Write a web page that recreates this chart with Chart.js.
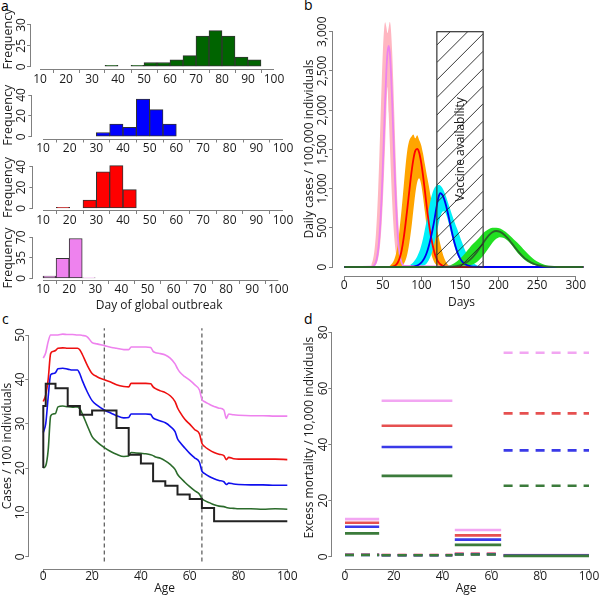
<!DOCTYPE html>
<html><head><meta charset="utf-8">
<script src="https://cdn.jsdelivr.net/npm/chart.js@4.4.1/dist/chart.umd.min.js"></script>
<style>
html,body{margin:0;padding:0;background:#fff;}
#wrap{position:relative;width:600px;height:599px;overflow:hidden;background:#fff;}
#wrap canvas{position:absolute;left:0;top:0;}
.lbl{position:absolute;font-family:'Open Sans',sans-serif;font-size:14px;line-height:14px;color:#000;}
</style></head><body>
<div id="wrap">
  <div class="lbl" style="left:1px;top:-1px">a</div>
  <div class="lbl" style="left:304px;top:-2px">b</div>
  <div class="lbl" style="left:2px;top:312px">c</div>
  <div class="lbl" style="left:304px;top:312px">d</div>
</div>
<script>
// ---------------- DATA ----------------
// Panel a : histograms of day of global outbreak
const histXTicks = [10,20,30,40,50,60,70,80,90,100];
const histXLabels = ['10','20','30','40','50','60','70','80','90','100'];
const hist1Edges = [35,40,45,50,55,60,65,70,75,80,85,90,95];
const hist1Counts = [1,0,1,3,3,5,8,22,26,22,7,5];
const hist1YTicks = [0,15,30];
const hist1YLabels = ['0','25','30'];
const hist2Edges = [30,35,40,45,50,55,60];
const hist2Counts = [4,12,9,36,26,12];
const hist2YTicks = [0,20,40];
const hist2YLabels = ['0','20','40'];
const hist3Edges = [15,20,25,30,35,40,45];
const hist3Counts = [1,0,8,35,41,18];
const hist3YTicks = [0,20,40];
const hist3YLabels = ['0','20','40'];
const hist4Edges = [10,15,20,25,30];
const hist4Counts = [4,34,68,1];
const hist4YTicks = [0,35,70];
const hist4YLabels = ['0','35','70'];

// Panel b : daily cases per 100,000
const dayRange = [0, 310];
const bXTicks = [0,50,100,150,200,250,300];
const bXLabels = ['0','50','100','150','200','250','300'];
const bYTicks = [0,500,1000,1500,2000,2500,3000];
const bYLabels = ['0','500','1,000','1,500','2,000','2,500','3,000'];
const vaccineWindow = [120, 180];
const vaccineTop = 3000;

const pinkDays = [35,36.5,38,39.5,41,42.5,44,45.5,47,48.5,50,51.5,53,54.5,56,57.5,59,60.5,62,63.5,65,66.5,68,69.5,71,72.5,74,75.5,77];
const pinkUpper = [35,71,137,248,422,675,1013,1428,1892,2355,2753,3023,3120,3060,2980,3050,3130,3023,2753,2355,1892,1428,1013,675,422,248,137,71,35];
const pinkLower = [0,2,6,13,29,59,114,207,352,562,844,1190,1577,1962,2295,1962,1577,1190,844,562,352,207,114,59,29,13,6,2,0];
const violetLine = [3,6,14,31,64,124,224,382,610,916,1291,1710,2129,2489,2733,2820,2733,2489,2129,1710,1291,916,610,382,224,124,64,31,14];

const orangeDays = [57,59.5,62,64.5,67,69.5,72,74.5,77,79.5,82,84.5,87,89.5,92,94.5,97,99.5,102,104.5,107,109.5,112,114.5,117,119.5,122,124.5,127,129.5,132,134.5,137];
const orangeUpper = [0,20,45,90,170,300,520,760,1030,1300,1510,1620,1660,1690,1640,1680,1620,1560,1450,1310,1170,1040,900,790,660,530,400,290,190,115,60,25,5];
const orangeLower = [0,0,0,0,0,0,5,15,40,90,180,320,500,720,930,1080,1130,1060,900,700,500,330,200,110,55,25,10,3,0,0,0,0,0];
const redLine = [0,2,5,12,28,60,120,220,370,560,770,990,1200,1370,1480,1505,1460,1340,1170,970,760,570,410,280,180,110,65,35,18,8,3,1,0];

const cyanDays = [79.5,82,84.5,87,89.5,92,94.5,97,99.5,102,104.5,107,109.5,112,114.5,117,119.5,122,124.5,127,129.5,132,134.5,137,139.5,142,144.5,147,149.5,152,154.5,157,159.5,162,164.5,167,169.5,172,174.5,177,179.5,182,184.5];
const cyanUpper = [5,12,22,38,60,92,135,190,265,360,480,610,740,860,950,1010,1040,1045,1040,1010,960,895,820,745,670,600,530,470,400,330,265,205,155,112,80,54,35,22,13,7,3,1,0];
const cyanLower = [0,0,0,0,0,0,0,0,5,12,25,48,85,140,215,310,420,540,640,700,710,670,590,490,385,290,210,145,95,60,35,20,10,5,2,0,0,0,0,0,0,0,0];
const blueLine = [0,0,0,3,6,11,19,32,52,82,125,185,265,365,480,610,760,885,940,920,866,781,676,560,447,342,251,177,119,80,52,34,22,14,9,6,4,2,1,0,0,0,0];

const greenDays = [127,132,137,142,147,152,157,162,167,172,177,182,187,192,197,202,207,212,217,222,227,232,237,242,247,252,257,262,267,272,277];
const greenUpper = [2,8,20,45,80,125,180,240,295,345,400,448,482,500,501,490,462,425,378,330,283,230,178,130,90,60,38,22,12,6,0];
const greenLower = [0,0,0,0,0,3,8,18,36,65,110,170,240,310,360,380,370,335,280,215,155,105,68,42,25,14,7,3,1,0,0];
const darkGreenLine = [0,1,3,7,14,28,50,84,132,193,264,336,400,443,459,447,414,364,304,241,181,129,88,57,35,20,11,6,3,1,0];

// Panel c : cases per 100 by age
const cXTicks = [0,20,40,60,80,100];
const cXLabels = ['0','20','40','60','80','100'];
const cYTicks = [0,10,20,30,40,50];
const cYLabels = ['0','10','20','30','40','50'];
const ages = [0,1,2,3,4,5,6,8,10,12,14,15,16,18,20,22,25,28,30,33,35,36,38,40,42,44,45,46,48,50,52,54,55,56,58,60,62,64,65,66,68,70,72,74,75,76,78,80,85,90,95,100];
const casesViolet = [44.8,46,48.5,50,50,50,50,50.2,50.1,50.1,50,50,49.9,49.6,48.3,48,47.6,47.2,47,46.7,46.7,47.3,47.3,47.3,47.3,47.2,46.3,46,45.8,45.5,44.8,43.5,42.4,41.6,40.6,39.8,38.8,37.6,35.5,35,34.4,33.9,33.5,33.1,31.2,32.2,32,31.9,31.8,31.8,31.7,31.7];
const casesRed = [35,36.5,40,45.8,46.3,46.5,47,47.1,47,47,47,46.6,45.6,43.2,41.3,40.6,39.9,39.3,38.8,38.4,38.3,39.1,39.1,39.1,39.1,39,38.3,37.9,37.4,37,36.3,35,33.6,32.6,31,29.9,28.7,27.7,25.6,24.9,24.1,23.5,23.1,22.8,21.9,22.4,22.1,22,22,22,22,21.9];
const casesBlue = [28,30,36,41,41.3,41.5,42.4,42.5,42.3,42.1,42.1,41.2,39.7,37.2,35.2,34.2,33.1,32.3,31.8,31.3,31.4,32.2,32.2,32.2,32.2,32.1,31.3,31,30.6,30.2,29.4,28.2,26.6,25.8,24.5,23.3,22.3,21.3,19.3,18.8,18.1,17.6,17.2,16.9,16.3,16.6,16.4,16.3,16.2,16.2,16.1,16.1];
const casesGreen = [20,20.5,24,31.7,32.2,32.3,33.8,34,33.8,33.7,33.8,33.3,32.2,29.6,27.1,25.9,24.6,23.6,23.1,22.6,22.7,23.5,23.4,23.3,23.2,23,22.8,22.5,22.2,21.6,20.8,19.7,18.6,17.9,16.8,15.8,14.9,14.1,13.1,12.7,12.2,11.7,11.4,11.3,11.1,11,10.9,10.8,10.8,10.7,10.8,10.7];
const stepAges = [0,1,5,10,15,20,25,30,35,40,45,50,55,60,65,70,75,100];
const stepCases = [20,34,39,38,34,32,33,33,29,23,21,17,16,14,13,11,8,8];
const refAges = [25, 65];
const refSpan = [-1.1, 51.5];

// Panel d : excess mortality per 10,000 by age group
const dXTicks = [0,20,40,60,80,100];
const dXLabels = ['0','20','40','60','80','100'];
const dYTicks = [0,20,40,60,80];
const dYLabels = ['0','20','40','60','80'];
const groupStart = [0,15,45,65];
const groupEnd = [14,44,64,100];
const mortSolidViolet = [13.4,55.6,9.5,0.6];
const mortSolidRed = [12.1,46.7,7.6,0.5];
const mortSolidBlue = [10.7,39.1,6.1,0.4];
const mortSolidGreen = [8.3,28.8,4.2,0.3];
const mortDashViolet = [0.7,0.6,1.1,72.7];
const mortDashRed = [0.7,0.6,1.0,51.1];
const mortDashBlue = [0.6,0.5,0.9,37.9];
const mortDashGreen = [0.6,0.5,0.8,25.3];

// ---------------- STYLE / HELPERS ----------------
const FONT = "'Open Sans', sans-serif";
const AXIS = '#808080';
const INK = '#1a1a1a';
Chart.defaults.font.family = FONT;
Chart.defaults.color = INK;
const wrap = document.getElementById('wrap');
const mctx = document.createElement('canvas').getContext('2d');
function textW(s, size){ mctx.font = size + 'px ' + FONT; return mctx.measureText(s).width; }
function span(v1,p1,v2,p2,e1,e2){ const k=(v2-v1)/(p2-p1); return [v1+(e1-p1)*k, v1+(e2-p1)*k]; }
function pts(xs, ys){ return xs.map((x,i)=>({x:x, y:ys[i]})); }
function binPoints(edges, counts){ return counts.map((c,i)=>({x:(edges[i]+edges[i+1])/2, y:c})); }
function withBase(days, vals){ return [{x:dayRange[0],y:0}].concat(pts(days, vals), [{x:dayRange[1],y:0}]); }
function segs(vals){ const out=[]; vals.forEach((v,i)=>{ out.push({x:groupStart[i],y:v},{x:groupEnd[i],y:v},{x:groupEnd[i],y:null}); }); return out; }

const rAxes = {
  id:'rAxes',
  afterDraw(chart){
    const {ctx, scales:{x,y}} = chart;
    ctx.save(); ctx.strokeStyle = AXIS; ctx.lineWidth = 1;
    const xs = x.ticks, ys = y.ticks;
    const by = Math.round(x.top) + 0.5;
    const lx = Math.round(y.right) - 0.5;
    ctx.beginPath();
    ctx.moveTo(x.getPixelForValue(xs[0].value), by);
    ctx.lineTo(x.getPixelForValue(xs[xs.length-1].value), by);
    ctx.moveTo(lx, y.getPixelForValue(ys[0].value));
    ctx.lineTo(lx, y.getPixelForValue(ys[ys.length-1].value));
    ctx.stroke(); ctx.restore();
  }
};

function makePanel(p){
  const c = document.createElement('canvas'); c.width = 600; c.height = 599;
  c.style.width = '600px'; c.style.height = '599px';
  wrap.appendChild(c);
  const tickLen = 4;
  const kSize = p.tickSize || 12, tSize = p.titleSize || 12, ytSize = p.yTitleSize || tSize;
  const kLH = kSize * 1.2, tLH = tSize * 1.2, ytLH = ytSize * 1.2;
  const padLeft = p.yTitleX - ytLH / 2;
  const yW = p.L - padLeft;
  const xH = p.xTitle ? (p.xTitleY - p.B + tLH / 2) : 24;
  const xr = span(p.xCal[0], p.xCal[1], p.xCal[2], p.xCal[3], p.L, p.R);
  const yr = span(p.yCal[0], p.yCal[1], p.yCal[2], p.yCal[3], p.B, p.T);
  const widest = Math.max.apply(null, p.yLabels.map(s => textW(s, kSize)));
  const yPad = p.L - tickLen - p.yTickX - widest / 2;
  const xPad = p.xTickY - p.B - tickLen - kLH / 2;
  const grid = {display:true, drawOnChartArea:false, drawTicks:true, tickLength:tickLen, color:AXIS, lineWidth:1};
  return new Chart(c, {
    type: p.type || 'line',
    data: {datasets: p.datasets},
    options: {
      responsive:false, animation:false, events:[],
      layout:{padding:{left:padLeft, top:p.T, right:600 - p.R, bottom:599 - p.B - xH}},
      plugins:{legend:{display:false}, tooltip:{enabled:false}},
      elements:{point:{radius:0}},
      scales:{
        x:{type:'linear', min:xr[0], max:xr[1], bounds:'data', offset:false,
          afterBuildTicks: s => { s.ticks = p.xTicks.map(v => ({value:v})); },
          afterFit: s => { s.height = xH; },
          ticks:{callback:(v,i) => p.xLabels[i], font:{size:kSize}, color:INK, padding:xPad, minRotation:0, maxRotation:0, autoSkip:false},
          grid: grid, border:{display:false},
          title: p.xTitle ? {display:true, text:p.xTitle, font:{size:tSize}, color:INK, padding:0} : {display:false}
        },
        y:{type:'linear', min:yr[0], max:yr[1], bounds:'data',
          afterBuildTicks: s => { s.ticks = p.yTicks.map(v => ({value:v})); },
          afterFit: s => { s.width = yW; },
          ticks:{callback:(v,i) => p.yLabels[i], font:{size:kSize}, color:INK, padding:yPad, minRotation:90, maxRotation:90, crossAlign:'center', autoSkip:false},
          grid: grid, border:{display:false},
          title:{display:true, text:p.yTitle, font:{size:ytSize}, color:INK, padding:0}
        }
      }
    },
    plugins:[rAxes].concat(p.plugins || [])
  });
}

function histDataset(edges, counts, color){
  return [{type:'bar', data:binPoints(edges, counts), backgroundColor:color, borderColor:'#333333', borderWidth:1,
           borderSkipped:false, barPercentage:1, categoryPercentage:1}];
}

// ---------------- PANEL a ----------------
makePanel({type:'bar', L:31, R:282, T:9, B:69, xCal:[10,40,100,274], yCal:[0,66.7,30,25],
  xTicks:histXTicks, xLabels:histXLabels, yTicks:hist1YTicks, yLabels:hist1YLabels,
  yTitle:'Frequency', yTitleX:8, yTitleSize:12.5, yTickX:22, xTickY:79.5,
  datasets:histDataset(hist1Edges, hist1Counts, '#006400')});
makePanel({type:'bar', L:32.3, R:290, T:92, B:138.5, xCal:[10,43,100,283], yCal:[0,136.7,40,95],
  xTicks:histXTicks, xLabels:histXLabels, yTicks:hist2YTicks, yLabels:hist2YLabels,
  yTitle:'Frequency', yTitleX:8, yTitleSize:12.5, yTickX:22, xTickY:149,
  datasets:histDataset(hist2Edges, hist2Counts, '#0000FF')});
makePanel({type:'bar', L:33.3, R:290, T:165, B:210, xCal:[10,43,100,283], yCal:[0,208.3,40,166.7],
  xTicks:histXTicks, xLabels:histXLabels, yTicks:hist3YTicks, yLabels:hist3YLabels,
  yTitle:'Frequency', yTitleX:8, yTitleSize:12.5, yTickX:22, xTickY:220.3,
  datasets:histDataset(hist3Edges, hist3Counts, '#FF0000')});
makePanel({type:'bar', L:33.3, R:285, T:236, B:280, xCal:[10,43,100,278.3], yCal:[0,278.3,70,237.3],
  xTicks:histXTicks, xLabels:histXLabels, yTicks:hist4YTicks, yLabels:hist4YLabels,
  yTitle:'Frequency', yTitleX:8, yTitleSize:12.5, yTickX:22, xTickY:290,
  xTitle:'Day of global outbreak', xTitleY:306,
  datasets:histDataset(hist4Edges, hist4Counts, '#EE82EE')});

// ---------------- PANEL b ----------------
const vaccineBox = {
  id:'vaccineBox',
  afterDatasetsDraw(chart){
    const {ctx, scales:{x,y}} = chart;
    const x0 = x.getPixelForValue(vaccineWindow[0]), x1 = x.getPixelForValue(vaccineWindow[1]);
    const yb = y.getPixelForValue(0), yt = y.getPixelForValue(vaccineTop);
    const w = x1 - x0;
    ctx.save();
    ctx.beginPath(); ctx.rect(x0, yt, w, yb - yt); ctx.clip();
    ctx.strokeStyle = '#222'; ctx.lineWidth = 0.9;
    ctx.beginPath();
    for (let k = yt + 13.3 - 17.5 * 4; k < yb + w + 17.5; k += 17.5){
      ctx.moveTo(x0, k); ctx.lineTo(x1, k - w);
    }
    ctx.stroke();
    ctx.restore();
    ctx.save();
    ctx.strokeStyle = '#333'; ctx.lineWidth = 1.2;
    ctx.strokeRect(x0, yt, w, yb - yt);
    ctx.translate(x.getPixelForValue((vaccineWindow[0] + vaccineWindow[1]) / 2) + 1, y.getPixelForValue(vaccineTop / 2));
    ctx.rotate(-Math.PI / 2);
    ctx.fillStyle = INK; ctx.font = '12px ' + FONT; ctx.textAlign = 'center'; ctx.textBaseline = 'middle';
    ctx.fillText('Vaccine availability', 0, 0);
    ctx.restore();
  }
};
function band(days, up, lo, color, order){
  return [
    {data:pts(days, up), borderWidth:0, pointRadius:0, fill:'+1', backgroundColor:color, order:order, cubicInterpolationMode:'monotone'},
    {data:pts(days, lo), borderWidth:0, pointRadius:0, fill:false, backgroundColor:color, order:order, cubicInterpolationMode:'monotone'}
  ];
}
function curve(days, vals, color, order){
  return {data:withBase(days, vals), borderColor:color, borderWidth:1.8, pointRadius:0, fill:false, order:order, cubicInterpolationMode:'monotone'};
}
makePanel({L:333, R:590, T:22, B:276, xCal:[0,344.3,300,575.7], yCal:[0,267,3000,31.7],
  xTicks:bXTicks, xLabels:bXLabels, yTicks:bYTicks, yLabels:bYLabels,
  yTitle:'Daily cases / 100,000 individuals', yTitleX:310, yTickX:323, xTickY:286,
  xTitle:'Days', xTitleY:303,
  datasets:[].concat(
    band(pinkDays, pinkUpper, pinkLower, '#FFB6C1', 20),
    band(orangeDays, orangeUpper, orangeLower, '#FFA500', 19),
    band(cyanDays, cyanUpper, cyanLower, '#00F0F8', 18),
    band(greenDays, greenUpper, greenLower, '#22E022', 17),
    [curve(pinkDays, violetLine, '#EE82EE', 16),
     curve(orangeDays, redLine, '#FF0000', 15),
     curve(cyanDays, blueLine, '#0000EE', 14),
     curve(greenDays, darkGreenLine, '#2A642A', 13)]
  ),
  plugins:[vaccineBox]});

// ---------------- PANEL c ----------------
function ageLine(vals, color){ return {data:pts(ages, vals), borderColor:color, borderWidth:1.6, pointRadius:0, fill:false, cubicInterpolationMode:'monotone'}; }
makePanel({L:29.3, R:300, T:322.7, B:569.3, xCal:[0,43.3,100,287.3], yCal:[0,556.7,50,335],
  xTicks:cXTicks, xLabels:cXLabels, yTicks:cYTicks, yLabels:cYLabels,
  yTitle:'Cases / 100 individuals', yTitleX:8, yTickX:21, xTickY:576.7,
  xTitle:'Age', xTitleY:588.3,
  datasets:[
    {data:pts(stepAges, stepCases), borderColor:'#222222', borderWidth:2, stepped:'after', pointRadius:0, fill:false},
    ageLine(casesGreen, '#2B6B2B'),
    ageLine(casesBlue, '#1010EE'),
    ageLine(casesRed, '#EE1010'),
    ageLine(casesViolet, '#EE82EE'),
    {data:[{x:refAges[0],y:refSpan[0]},{x:refAges[0],y:refSpan[1]}], borderColor:'#555555', borderWidth:1.2, borderDash:[4,3], pointRadius:0, fill:false},
    {data:[{x:refAges[1],y:refSpan[0]},{x:refAges[1],y:refSpan[1]}], borderColor:'#555555', borderWidth:1.2, borderDash:[4,3], pointRadius:0, fill:false}
  ]});

// ---------------- PANEL d ----------------
function mortLine(vals, color, dashed){ return {data:segs(vals), borderColor:color, borderWidth:2.6, pointRadius:0, fill:false, spanGaps:false, tension:0, borderDash: dashed ? [9,7] : [], borderCapStyle:'butt'}; }
makePanel({L:332.3, R:600, T:306, B:569.3, xCal:[0,345,100,589], yCal:[0,556.7,80,332.3],
  xTicks:dXTicks, xLabels:dXLabels, yTicks:dYTicks, yLabels:dYLabels,
  yTitle:'Excess mortality / 10,000 individuals', yTitleX:310, yTickX:324, xTickY:576.7,
  xTitle:'Age', xTitleY:588.3,
  datasets:[
    mortLine(mortDashGreen, '#3B7B3B', true),
    mortLine(mortSolidGreen, '#3B7B3B', false),
    mortLine(mortDashBlue, '#3A3AE8', true),
    mortLine(mortSolidBlue, '#3A3AE8', false),
    mortLine(mortDashRed, '#E65050', true),
    mortLine(mortSolidRed, '#E65050', false),
    mortLine(mortDashViolet, '#F2A6F2', true),
    mortLine(mortSolidViolet, '#F2A6F2', false)
  ]});
</script>
</body></html>
